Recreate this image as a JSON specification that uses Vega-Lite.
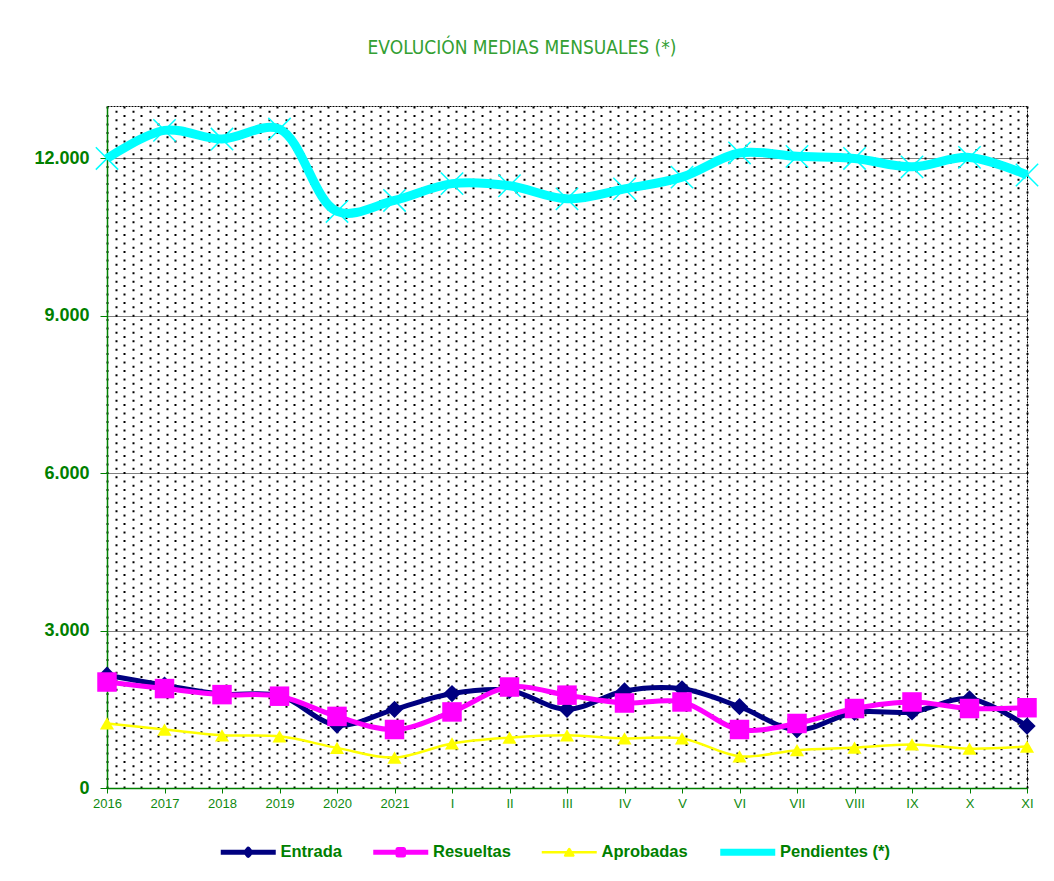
{
  "$schema": "https://vega.github.io/schema/vega-lite/v6.json",
  "width": 920,
  "height": 682,
  "autosize": "none",
  "padding": {"left": 107, "top": 106, "right": 27, "bottom": 93},
  "background": "#ffffff",
  "title": {
    "text": "EVOLUCIÓN MEDIAS MENSUALES (*)",
    "font": "DejaVu Sans Condensed",
    "fontSize": 19,
    "fontWeight": "normal",
    "color": "#33a033",
    "anchor": "middle",
    "dx": -45,
    "offset": 33,
    "baseline": "alphabetic"
  },
  "config": {
    "view": {"stroke": "#000000", "strokeDash": [2, 1], "strokeWidth": 1},
    "legend": {"padding": 0}
  },
  "resolve": {"scale": {"x": "independent"}, "axis": {"x": "independent"}},
  "layer": [
    {
      "data": {"values": [{"p": 0}]},
      "mark": {"type": "rule", "opacity": 0},
      "encoding": {
        "x": {
          "field": "p",
          "type": "quantitative",
          "scale": {"domain": [0, 108], "nice": false, "zero": false},
          "axis": {
            "orient": "top",
            "tickCount": 108,
            "grid": true,
            "gridColor": "#000000",
            "gridWidth": 2,
            "gridDash": [2, 6.5],
            "gridDashOffset": {"condition": {"test": "datum.value % 2 === 1", "value": 4.25}, "value": 0},
            "labels": false,
            "ticks": false,
            "domain": false,
            "title": null
          }
        }
      }
    },
    {
      "data": {
        "values": [
          {"m": "2016", "s": "Entrada", "v": 2150},
          {"m": "2017", "s": "Entrada", "v": 1960},
          {"m": "2018", "s": "Entrada", "v": 1790},
          {"m": "2019", "s": "Entrada", "v": 1760},
          {"m": "2020", "s": "Entrada", "v": 1200},
          {"m": "2021", "s": "Entrada", "v": 1500},
          {"m": "I", "s": "Entrada", "v": 1800},
          {"m": "II", "s": "Entrada", "v": 1860},
          {"m": "III", "s": "Entrada", "v": 1500},
          {"m": "IV", "s": "Entrada", "v": 1850},
          {"m": "V", "s": "Entrada", "v": 1890},
          {"m": "VI", "s": "Entrada", "v": 1550},
          {"m": "VII", "s": "Entrada", "v": 1110},
          {"m": "VIII", "s": "Entrada", "v": 1440},
          {"m": "IX", "s": "Entrada", "v": 1450},
          {"m": "X", "s": "Entrada", "v": 1700},
          {"m": "XI", "s": "Entrada", "v": 1180},
          {"m": "2016", "s": "Resueltas", "v": 2020},
          {"m": "2017", "s": "Resueltas", "v": 1895},
          {"m": "2018", "s": "Resueltas", "v": 1780},
          {"m": "2019", "s": "Resueltas", "v": 1750},
          {"m": "2020", "s": "Resueltas", "v": 1365},
          {"m": "2021", "s": "Resueltas", "v": 1115},
          {"m": "I", "s": "Resueltas", "v": 1450},
          {"m": "II", "s": "Resueltas", "v": 1925},
          {"m": "III", "s": "Resueltas", "v": 1770},
          {"m": "IV", "s": "Resueltas", "v": 1620},
          {"m": "V", "s": "Resueltas", "v": 1640},
          {"m": "VI", "s": "Resueltas", "v": 1115},
          {"m": "VII", "s": "Resueltas", "v": 1230},
          {"m": "VIII", "s": "Resueltas", "v": 1515},
          {"m": "IX", "s": "Resueltas", "v": 1640},
          {"m": "X", "s": "Resueltas", "v": 1515},
          {"m": "XI", "s": "Resueltas", "v": 1530},
          {"m": "2016", "s": "Aprobadas", "v": 1230},
          {"m": "2017", "s": "Aprobadas", "v": 1115},
          {"m": "2018", "s": "Aprobadas", "v": 1005},
          {"m": "2019", "s": "Aprobadas", "v": 985},
          {"m": "2020", "s": "Aprobadas", "v": 765},
          {"m": "2021", "s": "Aprobadas", "v": 580},
          {"m": "I", "s": "Aprobadas", "v": 850},
          {"m": "II", "s": "Aprobadas", "v": 960},
          {"m": "III", "s": "Aprobadas", "v": 1005},
          {"m": "IV", "s": "Aprobadas", "v": 945},
          {"m": "V", "s": "Aprobadas", "v": 945},
          {"m": "VI", "s": "Aprobadas", "v": 605},
          {"m": "VII", "s": "Aprobadas", "v": 720},
          {"m": "VIII", "s": "Aprobadas", "v": 770},
          {"m": "IX", "s": "Aprobadas", "v": 830},
          {"m": "X", "s": "Aprobadas", "v": 750},
          {"m": "XI", "s": "Aprobadas", "v": 790},
          {"m": "2016", "s": "Pendientes (*)", "v": 12000},
          {"m": "2017", "s": "Pendientes (*)", "v": 12535},
          {"m": "2018", "s": "Pendientes (*)", "v": 12370},
          {"m": "2019", "s": "Pendientes (*)", "v": 12560},
          {"m": "2020", "s": "Pendientes (*)", "v": 10990},
          {"m": "2021", "s": "Pendientes (*)", "v": 11200},
          {"m": "I", "s": "Pendientes (*)", "v": 11520},
          {"m": "II", "s": "Pendientes (*)", "v": 11480},
          {"m": "III", "s": "Pendientes (*)", "v": 11230},
          {"m": "IV", "s": "Pendientes (*)", "v": 11420},
          {"m": "V", "s": "Pendientes (*)", "v": 11645},
          {"m": "VI", "s": "Pendientes (*)", "v": 12105},
          {"m": "VII", "s": "Pendientes (*)", "v": 12040},
          {"m": "VIII", "s": "Pendientes (*)", "v": 12000},
          {"m": "IX", "s": "Pendientes (*)", "v": 11840},
          {"m": "X", "s": "Pendientes (*)", "v": 12020},
          {"m": "XI", "s": "Pendientes (*)", "v": 11685}
        ]
      },
      "encoding": {
        "x": {
          "field": "m",
          "type": "ordinal",
          "scale": {
            "type": "point",
            "padding": 0,
            "domain": ["2016", "2017", "2018", "2019", "2020", "2021", "I", "II", "III", "IV", "V", "VI", "VII", "VIII", "IX", "X", "XI"]
          },
          "axis": {
            "orient": "bottom",
            "title": null,
            "labelAngle": 0,
            "labelFont": "Liberation Sans",
            "labelFontSize": 13,
            "labelColor": "#108a10",
            "labelPadding": 4,
            "tickSize": 5,
            "tickColor": "#008000",
            "domainColor": "#008000",
            "domainWidth": 1.5,
            "grid": false
          }
        },
        "y": {
          "field": "v",
          "type": "quantitative",
          "scale": {"domain": [0, 13000], "nice": false},
          "axis": {
            "title": null,
            "values": [0, 3000, 6000, 9000, 12000],
            "labelExpr": "replace(format(datum.value, ','), ',', '.')",
            "labelFont": "Liberation Sans",
            "labelFontWeight": "bold",
            "labelFontSize": 18,
            "labelColor": "#008000",
            "labelPadding": 11,
            "tickSize": 7,
            "tickColor": "#008000",
            "domainColor": "#008000",
            "domainWidth": 1.5,
            "grid": true,
            "gridColor": "#000000",
            "gridDash": [1, 1],
            "gridWidth": 1
          }
        }
      },
      "layer": [
        {
          "transform": [{"filter": "datum.s === 'Entrada'"}],
          "mark": {"type": "line", "interpolate": "catmull-rom", "strokeWidth": 5},
          "encoding": {
            "color": {
              "field": "s",
              "type": "nominal",
              "scale": {
                "domain": ["Entrada", "Resueltas", "Aprobadas", "Pendientes (*)"],
                "range": ["#000080", "#ff00ff", "#ffff00", "#00ffff"]
              },
              "legend": {
                "orient": "none",
                "legendX": 133,
                "legendY": 736,
                "direction": "horizontal",
                "title": null,
                "symbolSize": 3025,
                "columnPadding": 28.5,
                "labelOffset": 24,
                "labelFont": "Liberation Sans",
                "labelFontWeight": "bold",
                "labelFontSize": 16.5,
                "labelColor": "#008000",
                "labelLimit": 300,
                "encode": {
                  "symbols": {
                    "update": {
                      "y": {"value": 10},
                      "shape": {"signal": "datum.value === 'Entrada' ? 'M-1,0H1M0,-0.11L0.09,0L0,0.11L-0.09,0Z' : datum.value === 'Resueltas' ? 'M-1,0H1M-0.1,-0.1H0.1V0.1H-0.1Z' : datum.value === 'Aprobadas' ? 'M-1,0H1M0,-0.12L0.15,0.12L-0.15,0.12Z' : 'M-1,0H1'"},
                      "strokeWidth": {"signal": "(datum.value === 'Aprobadas') ? 2.5 : ((datum.value === 'Pendientes (*)') ? 7 : 5)"},
                      "strokeJoin": {"value": "round"},
                      "fill": {"signal": "datum.value === 'Entrada' ? '#000080' : datum.value === 'Resueltas' ? '#ff00ff' : datum.value === 'Aprobadas' ? '#ffff00' : '#00ffff'"},
                      "stroke": {"signal": "datum.value === 'Entrada' ? '#000080' : datum.value === 'Resueltas' ? '#ff00ff' : datum.value === 'Aprobadas' ? '#ffff00' : '#00ffff'"},
                      "opacity": {"value": 1}
                    }
                  },
                  "labels": {
                    "update": {
                      "y": {"value": 10}
                    }
                  }
                }
              }
            }
          }
        },
        {
          "transform": [{"filter": "datum.s === 'Entrada'"}],
          "mark": {"type": "point", "shape": "diamond", "filled": true, "size": 300, "color": "#000080", "opacity": 1}
        },
        {
          "transform": [{"filter": "datum.s === 'Resueltas'"}],
          "mark": {"type": "line", "interpolate": "catmull-rom", "strokeWidth": 5},
          "encoding": {"color": {"field": "s", "type": "nominal"}}
        },
        {
          "transform": [{"filter": "datum.s === 'Resueltas'"}],
          "mark": {"type": "point", "shape": "square", "filled": true, "size": 380, "color": "#ff00ff", "opacity": 1}
        },
        {
          "transform": [{"filter": "datum.s === 'Aprobadas'"}],
          "mark": {"type": "line", "interpolate": "catmull-rom", "strokeWidth": 2.5},
          "encoding": {"color": {"field": "s", "type": "nominal"}}
        },
        {
          "transform": [{"filter": "datum.s === 'Aprobadas'"}],
          "mark": {"type": "point", "shape": "triangle-up", "filled": true, "size": 200, "color": "#ffff00", "opacity": 1}
        },
        {
          "transform": [{"filter": "datum.s === 'Pendientes (*)'"}],
          "mark": {"type": "line", "interpolate": "catmull-rom", "strokeWidth": 9},
          "encoding": {"color": {"field": "s", "type": "nominal"}}
        },
        {
          "transform": [{"filter": "datum.s === 'Pendientes (*)'"}],
          "mark": {"type": "point", "shape": "M-1,-1L1,1M-1,1L1,-1", "filled": false, "size": 500, "strokeWidth": 1.5, "color": "#00ffff", "opacity": 1}
        }
      ]
    }
  ]
}
